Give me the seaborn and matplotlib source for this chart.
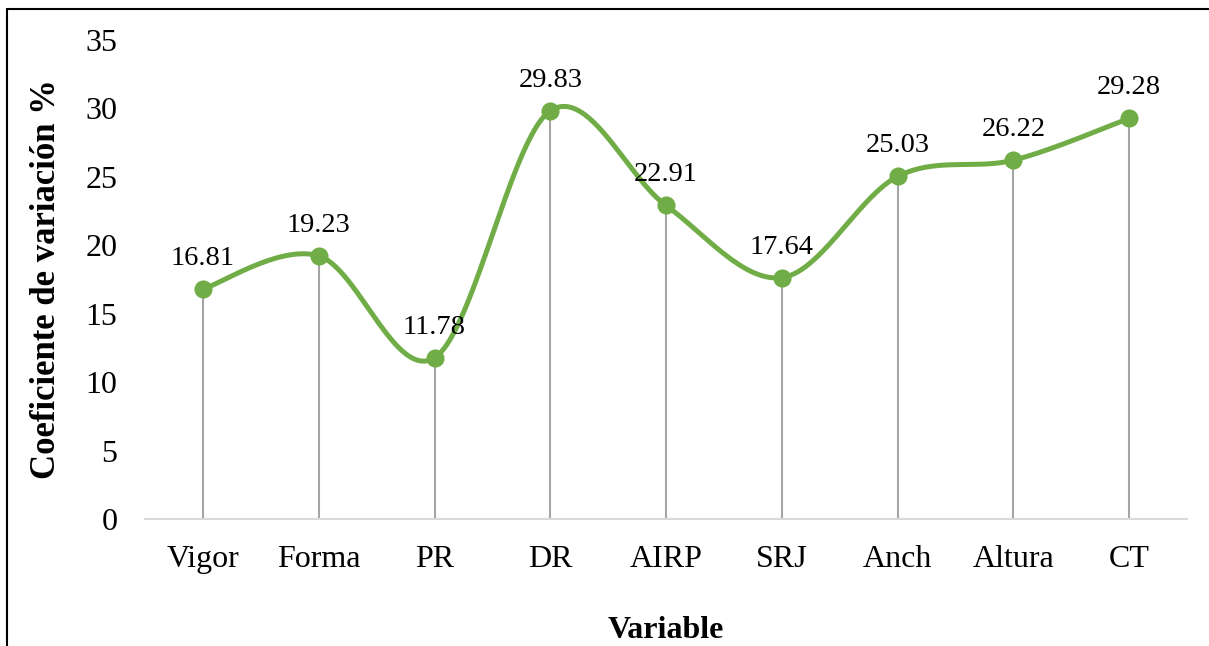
import numpy as np
import pandas as pd
import matplotlib
matplotlib.use("Agg")
import matplotlib.pyplot as plt
import seaborn as sns
from matplotlib.lines import Line2D

# Datos del gráfico
variables = ["Vigor", "Forma", "PR", "DR", "AIRP", "SRJ", "Anch", "Altura", "CT"]
coef_var = [16.81, 19.23, 11.78, 29.83, 22.91, 17.64, 25.03, 26.22, 29.28]

df = pd.DataFrame({"variable": variables, "cv": coef_var})
df["pos"] = np.arange(len(df))

sns.set_theme(style="white")
plt.rcParams["font.family"] = ["Liberation Serif", "DejaVu Serif"]
plt.rcParams["text.color"] = "black"
plt.rcParams["axes.labelcolor"] = "black"
plt.rcParams["xtick.color"] = "black"
plt.rcParams["ytick.color"] = "black"

VERDE = "#70AD47"
GRIS = "#A5A5A5"


def curva_suave(x, y, n=60):
    # suavizado tipo Excel (Catmull-Rom -> Bezier)
    x = np.asarray(x, float)
    y = np.asarray(y, float)
    px = np.concatenate([[x[0]], x, [x[-1]]])
    py = np.concatenate([[y[0]], y, [y[-1]]])
    xs, ys = [], []
    t = np.linspace(0, 1, n)
    for i in range(1, len(px) - 2):
        p0 = np.array([px[i], py[i]])
        p3 = np.array([px[i + 1], py[i + 1]])
        p1 = p0 + (np.array([px[i + 1], py[i + 1]]) - np.array([px[i - 1], py[i - 1]])) / 6
        p2 = p3 - (np.array([px[i + 2], py[i + 2]]) - np.array([px[i], py[i]])) / 6
        b = ((1 - t) ** 3)[:, None] * p0 + (3 * (1 - t) ** 2 * t)[:, None] * p1 \
            + (3 * (1 - t) * t ** 2)[:, None] * p2 + (t ** 3)[:, None] * p3
        xs.append(b[:, 0])
        ys.append(b[:, 1])
    return np.concatenate(xs), np.concatenate(ys)


fig = plt.figure(figsize=(12.09, 6.46), dpi=100)
ax = fig.add_axes([0.12, 0.1966, 0.8618, 0.7414])

# líneas de caída
ax.vlines(df["pos"], 0, df["cv"], color=GRIS, linewidth=1.5, zorder=1)

sx, sy = curva_suave(df["pos"], df["cv"])
ax.plot(sx, sy, color=VERDE, linewidth=3.6, solid_capstyle="round", zorder=2)
sns.scatterplot(data=df, x="pos", y="cv", ax=ax, color=VERDE, s=170,
                edgecolor=VERDE, linewidth=0, zorder=3, legend=False)

for _, r in df.iterrows():
    ax.annotate(f"{r['cv']:.2f}", (r["pos"], r["cv"]), xytext=(0, 13),
                textcoords="offset points", ha="center", va="bottom", fontsize=20.5)

ax.set_xlim(-0.5, len(variables) - 0.5)
ax.set_ylim(0, 35)
ax.set_yticks(range(0, 36, 5))
ax.set_xticks(df["pos"])
ax.set_xticklabels(variables)
ax.tick_params(axis="both", length=0, labelsize=23)
ax.tick_params(axis="y", pad=20)
ax.tick_params(axis="x", pad=19)

for s in ["top", "right", "left"]:
    ax.spines[s].set_visible(False)
ax.spines["bottom"].set_color("#D9D9D9")
ax.spines["bottom"].set_linewidth(1.5)
ax.grid(False)

ax.set_xlabel("Variable", fontsize=23, fontweight="bold", labelpad=30)
ax.set_ylabel("Coeficiente de variación %", fontsize=25, fontweight="bold", labelpad=16)

# marco
fig.add_artist(Line2D([7 / 1209, 7 / 1209], [0, 1 - 9 / 646], transform=fig.transFigure,
                      color="black", linewidth=1.5))
fig.add_artist(Line2D([7 / 1209, 1], [1 - 9 / 646, 1 - 9 / 646], transform=fig.transFigure,
                      color="black", linewidth=1.5))

fig.savefig("out.png", dpi=100)
